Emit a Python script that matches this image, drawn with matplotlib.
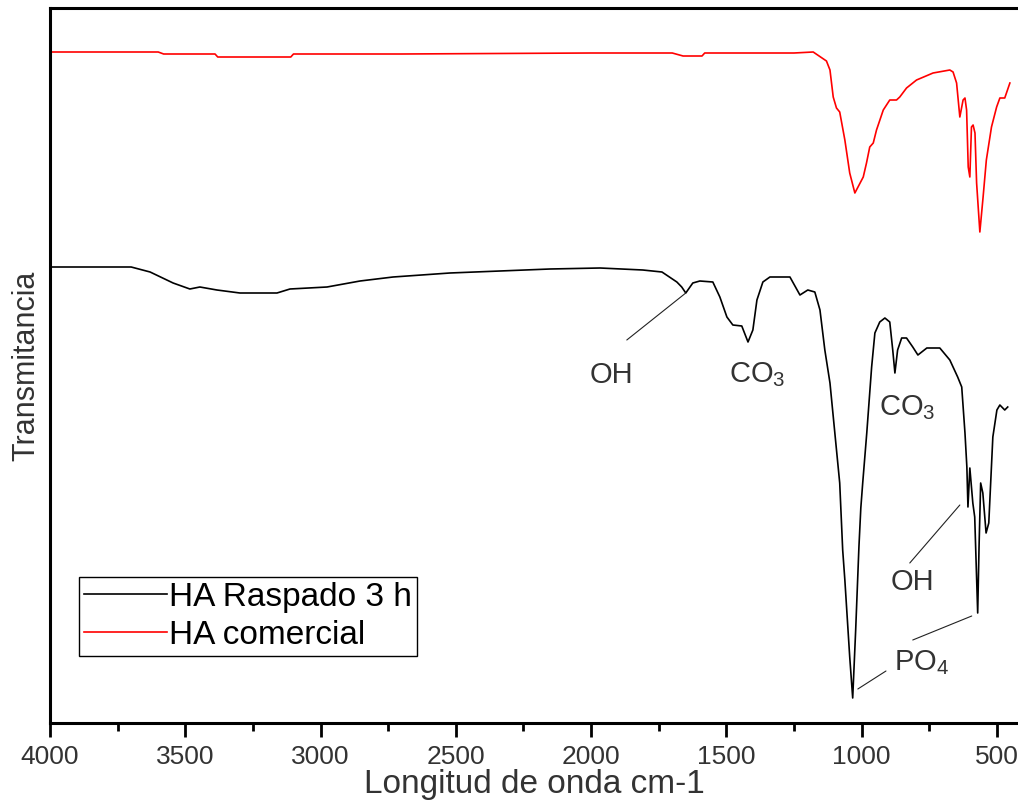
import numpy as np
import matplotlib.pyplot as plt

plt.rcParams['font.family'] = ['Liberation Sans', 'DejaVu Sans']
plt.rcParams['mathtext.fontset'] = 'custom'
plt.rcParams['mathtext.rm'] = 'Liberation Sans'
plt.rcParams['mathtext.it'] = 'Liberation Sans'

# HA comercial (wavenumber cm-1, transmittance a.u.)
wn_com = [4000, 3600, 3580, 3390, 3380, 3110, 3100, 2700, 2000, 1700, 1660, 1590, 1580,
          1250, 1179, 1130, 1117, 1105, 1093, 1081, 1062, 1044, 1025, 994, 982, 970,
          957, 945, 920, 896, 871, 859, 834, 797, 736, 674, 662, 649, 643, 637, 625,
          618, 612, 606, 600, 594, 588, 581, 575, 563, 551, 539, 520, 501, 489, 471, 452]
t_com = [671, 671, 669, 669, 666, 666, 669, 669, 670, 670, 667, 667, 670,
         670, 671, 662, 653, 626, 615, 611, 583, 550, 530, 546, 560, 576,
         580, 593, 613, 623, 623, 626, 635, 643, 650, 653, 651, 640, 623, 606, 623,
         625, 613, 556, 546, 596, 598, 590, 540, 491, 526, 563, 596, 616, 625, 625, 640]

# HA Raspado 3 h
wn_ras = [4000, 3850, 3700, 3630, 3545, 3483, 3446, 3383, 3298, 3161, 3113, 2976, 2854,
          2732, 2522, 2337, 2152, 1967, 1809, 1738, 1683, 1665, 1650, 1624, 1598, 1550,
          1524, 1498, 1476, 1443, 1420, 1402, 1387, 1365, 1339, 1265, 1228, 1199, 1173,
          1154, 1136, 1117, 1099, 1081, 1070, 1062, 1044, 1033, 1022, 1010, 1003, 996,
          981, 963, 951, 933, 914, 896, 885, 877, 867, 852, 834, 811, 792, 759, 711,
          674, 645, 630, 618, 611, 607, 600, 589, 582, 571, 566, 560, 552, 540, 530,
          515, 500, 489, 471, 460]
t_ras = [456, 456, 456, 451, 440, 434, 436, 433, 430, 430, 434, 436, 442,
         446, 450, 452, 454, 455, 453, 451, 441, 436, 430, 440, 442, 441,
         426, 406, 398, 397, 381, 393, 423, 441, 446, 446, 428, 433, 431,
         413, 373, 340, 290, 240, 173, 143, 66, 25, 93, 176, 215, 240,
         290, 356, 390, 401, 405, 401, 373, 350, 373, 385, 385, 376, 368, 375, 375,
         363, 346, 336, 290, 256, 216, 255, 220, 206, 110, 176, 240, 230, 190, 200,
         286, 313, 318, 313, 316]

# band labels: text, text position, leader lines (start, peak)
labels = [('OH', 1925, 348), (r'CO$_3$', 1387, 348), (r'CO$_3$', 833, 315),
          ('OH', 814, 141), (r'PO$_4$', 778, 60)]
leaders = [((1868, 383), (1650, 430)), ((822, 160), (637, 218)),
           ((811, 83), (593, 107)), ((910, 52), (1014, 34))]

fig = plt.figure(figsize=(10.18, 8.07), dpi=100)
ax = fig.add_axes([50 / 1018, 84 / 807, 968 / 1018, 715 / 807])

ax.plot(wn_ras, t_ras, color='black', lw=1.2, label='HA Raspado 3 h')
ax.plot(wn_com, t_com, color='#ff0000', lw=1.2, label='HA comercial')

for txt, x, y in labels:
    ax.text(x, y, txt, fontsize=21, color='#333333', ha='center', va='center')
for start, peak in leaders:
    ax.annotate('', xy=peak, xytext=start,
                arrowprops=dict(arrowstyle='-', lw=0.8, color='#222222',
                                shrinkA=0, shrinkB=0))

ax.set_xlim(4000, 422)
ax.set_ylim(0, 715)
ax.set_xticks(np.arange(4000, 400, -500))
ax.set_xticks(np.arange(3750, 400, -500), minor=True)
ax.set_yticks([])
ax.tick_params(axis='x', which='major', length=10, width=2, labelsize=19,
               labelcolor='#333333', pad=6)
ax.tick_params(axis='x', which='minor', length=6, width=2)
for side in ['left', 'bottom', 'top']:
    ax.spines[side].set_linewidth(2.2)
ax.spines['right'].set_visible(False)

ax.set_xlabel('Longitud de onda cm-1', fontsize=24, color='#333333', labelpad=0)
ax.set_ylabel('Transmitancia', fontsize=22, color='#333333', labelpad=6)

leg = ax.legend(loc='upper left', bbox_to_anchor=(79 / 1018, 1 - 577 / 807),
                bbox_transform=fig.transFigure, borderaxespad=0, fontsize=24,
                handlelength=2.5, handletextpad=0.05, borderpad=0.15,
                labelspacing=0.2, fancybox=False, framealpha=1)
leg.get_frame().set_edgecolor('black')
leg.get_frame().set_linewidth(1)

fig.savefig('out.png', dpi=100)
